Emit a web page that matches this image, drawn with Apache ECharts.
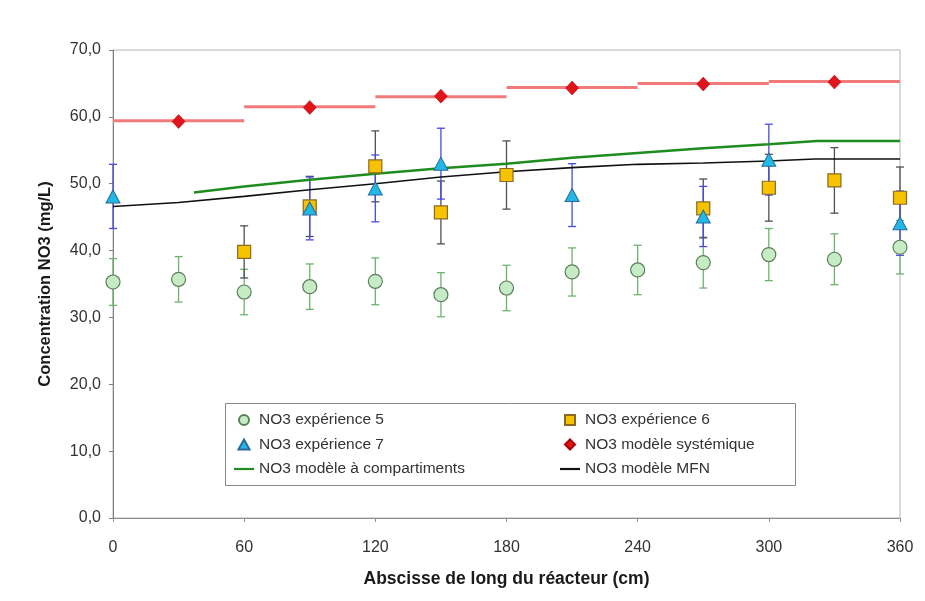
<!DOCTYPE html>
<html>
<head>
<meta charset="utf-8">
<script src="https://cdn.jsdelivr.net/npm/echarts@6/dist/echarts.min.js"></script>
<style>
html,body{margin:0;padding:0;background:#fff;}
#chart{width:925px;height:601px;}
</style>
</head>
<body>
<div id="chart"></div>
<script>
// ---- data ----
const xTicks = [0, 60, 120, 180, 240, 300, 360];

const xs5 = [0, 30, 60, 90, 120, 150, 180, 210, 240, 270, 300, 330, 360];
const exp5 = [35.3, 35.7, 33.8, 34.6, 35.4, 33.4, 34.4, 36.8, 37.1, 38.2, 39.4, 38.7, 40.5];
const err5 = [3.5, 3.4, 3.4, 3.4, 3.5, 3.3, 3.4, 3.6, 3.7, 3.8, 3.9, 3.8, 4.0];

const xs6 = [60, 90, 120, 150, 180, 270, 300, 330, 360];
const exp6 = [39.8, 46.6, 52.6, 45.7, 51.3, 46.3, 49.4, 50.5, 47.9];
const err6 = [3.9, 4.5, 5.3, 4.7, 5.1, 4.4, 5.0, 4.9, 4.6];

const xs7 = [0, 90, 120, 150, 210, 270, 300, 360];
const exp7 = [48.1, 46.3, 49.3, 53.0, 48.3, 45.1, 53.6, 44.1];
const err7 = [4.8, 4.7, 5.0, 5.3, 4.7, 4.5, 5.3, 4.8];

const xsSys = [30, 90, 150, 210, 270, 330];
const sysVals = [59.3, 61.4, 63.1, 64.3, 64.9, 65.2];
const segStart = [0, 60, 120, 180, 240, 300];
const segEnd = [60, 120, 180, 240, 300, 360];
const segVals = [59.4, 61.5, 63.0, 64.4, 65.0, 65.3];

const xsComp = [37, 60, 90, 120, 150, 180, 210, 240, 270, 300, 322, 360];
const compVals = [48.7, 49.6, 50.6, 51.5, 52.3, 53.0, 53.9, 54.6, 55.3, 55.9, 56.4, 56.4];

const xsMfn = [0, 30, 60, 90, 120, 150, 180, 210, 240, 270, 300, 321, 360];
const mfnVals = [46.6, 47.2, 48.1, 49.1, 50.0, 51.0, 51.8, 52.4, 52.9, 53.1, 53.4, 53.7, 53.7];

const names = ['NO3 expérience 5', 'NO3 expérience 6', 'NO3 expérience 7',
  'NO3 modèle systémique', 'NO3 modèle à compartiments', 'NO3 modèle MFN'];

// ---- helpers ----
const pts = (xs, ys) => xs.map((x, i) => [x, ys[i]]);
const errData = (xs, ys, es) => xs.map((x, i) => [x, ys[i] - es[i], ys[i] + es[i]]);

function errorBarSeries(data, color) {
  return {
    type: 'custom',
    silent: true,
    z: 2,
    data: data,
    encode: { x: 0, y: [1, 2] },
    renderItem: function (params, api) {
      const x = api.value(0);
      const top = api.coord([x, api.value(2)]);
      const bot = api.coord([x, api.value(1)]);
      const cap = 4;
      const st = { stroke: color, lineWidth: 1.3 };
      return {
        type: 'group',
        children: [
          { type: 'line', shape: { x1: top[0], y1: top[1], x2: bot[0], y2: bot[1] }, style: st },
          { type: 'line', shape: { x1: top[0] - cap, y1: top[1], x2: top[0] + cap, y2: top[1] }, style: st },
          { type: 'line', shape: { x1: bot[0] - cap, y1: bot[1], x2: bot[0] + cap, y2: bot[1] }, style: st }
        ]
      };
    }
  };
}

const stepData = segStart.map((s, i) => [s, segEnd[i], segVals[i]]);

const ICON = {
  circle: 'path://M5,1A4,4,0,1,1,5,9A4,4,0,1,1,5,1Z',
  square: 'path://M1,1H9V9H1Z',
  triangle: 'path://M5,0L10,9H0Z',
  diamond: 'path://M5,1L9,5L5,9L1,5Z',
  line: 'path://M0,0H22V2.4H0Z'
};

const font = 'Liberation Sans, Arial, sans-serif';
const legendText = { fontFamily: font, fontSize: 15.5, color: '#333' };
const chart = echarts.init(document.getElementById('chart'));

chart.setOption({
  animation: false,
  backgroundColor: '#fff',
  textStyle: { fontFamily: font },
  grid: { left: 113, top: 50, right: 25, bottom: 83, show: true, borderColor: '#b4b4b4', borderWidth: 1 },
  xAxis: {
    type: 'value', min: 0, max: 360, interval: 60,
    name: 'Abscisse de long du réacteur (cm)', nameLocation: 'middle', nameGap: 52,
    nameTextStyle: { fontFamily: font, fontSize: 17.5, fontWeight: 'bold', color: '#1a1a1a' },
    axisLine: { show: true, lineStyle: { color: '#909090' } },
    axisTick: { show: true, length: 4, lineStyle: { color: '#909090' } },
    axisLabel: { margin: 22, fontFamily: font, fontSize: 16, color: '#333' },
    splitLine: { show: false }
  },
  yAxis: {
    type: 'value', min: 0, max: 70, interval: 10,
    name: 'Concentration NO3 (mg/L)', nameLocation: 'middle', nameGap: 59,
    nameTextStyle: { fontFamily: font, fontSize: 16.5, fontWeight: 'bold', color: '#1a1a1a' },
    axisLine: { show: true, lineStyle: { color: '#808080' } },
    axisTick: { show: true, length: 4, lineStyle: { color: '#808080' } },
    axisLabel: { margin: 12, fontFamily: font, fontSize: 16, color: '#333',
      formatter: v => v.toFixed(1).replace('.', ',') },
    splitLine: { show: false }
  },
  graphic: [{
    type: 'rect', left: 225, top: 403, z: 50,
    shape: { width: 570, height: 82 },
    style: { fill: '#fff', stroke: '#888', lineWidth: 1 }
  }],
  legend: [{
    orient: 'vertical', left: 229, top: 407, z: 60,
    itemWidth: 20, itemHeight: 10, itemGap: 8.5, symbolKeepAspect: true,
    textStyle: legendText,
    data: [
      { name: names[0], icon: ICON.circle },
      { name: names[2], icon: ICON.triangle },
      { name: names[4], icon: ICON.line }
    ]
  }, {
    orient: 'vertical', left: 555, top: 407, z: 60,
    itemWidth: 20, itemHeight: 10, itemGap: 8.5, symbolKeepAspect: true,
    textStyle: legendText,
    data: [
      { name: names[1], icon: ICON.square },
      { name: names[3], icon: ICON.diamond },
      { name: names[5], icon: ICON.line }
    ]
  }],
  series: [
    errorBarSeries(errData(xs5, exp5, err5), '#6cb46c'),
    errorBarSeries(errData(xs6, exp6, err6), '#505050'),
    errorBarSeries(errData(xs7, exp7, err7), '#4a4ae0'),
    {
      type: 'custom', silent: true, z: 3,
      data: stepData, encode: { x: [0, 1], y: 2 },
      renderItem: function (params, api) {
        const a = api.coord([api.value(0), api.value(2)]);
        const b = api.coord([api.value(1), api.value(2)]);
        return { type: 'line', shape: { x1: a[0], y1: a[1], x2: b[0], y2: b[1] },
          style: { stroke: '#f27a7a', lineWidth: 3 } };
      }
    },
    {
      name: names[4], type: 'line', data: pts(xsComp, compVals), z: 4,
      symbol: 'none', smooth: false,
      lineStyle: { color: '#1f8c1f', width: 2.5 }, itemStyle: { color: '#1f8c1f' }
    },
    {
      name: names[5], type: 'line', data: pts(xsMfn, mfnVals), z: 4,
      symbol: 'none', smooth: false,
      lineStyle: { color: '#111', width: 1.6 }, itemStyle: { color: '#111' }
    },
    {
      name: names[0], type: 'scatter', data: pts(xs5, exp5), z: 5,
      symbol: 'circle', symbolSize: 14,
      itemStyle: { color: '#c6ecc6', borderColor: '#5c7e5c', borderWidth: 1.2, opacity: 1 }
    },
    {
      name: names[1], type: 'scatter', data: pts(xs6, exp6), z: 5,
      symbol: 'rect', symbolSize: 13,
      itemStyle: { color: '#f7c300', borderColor: '#8a6a20', borderWidth: 1.2, opacity: 1 }
    },
    {
      name: names[2], type: 'scatter', data: pts(xs7, exp7), z: 5,
      symbol: 'triangle', symbolSize: [14, 13],
      itemStyle: { color: '#22b8e6', borderColor: '#2a6a9a', borderWidth: 1, opacity: 1 }
    },
    {
      name: names[3], type: 'scatter', data: pts(xsSys, sysVals), z: 5,
      symbol: 'diamond', symbolSize: [13, 14],
      itemStyle: { color: '#e0141a', borderColor: '#b00000', borderWidth: 0.5, opacity: 1 }
    }
  ]
});
</script>
</body>
</html>
